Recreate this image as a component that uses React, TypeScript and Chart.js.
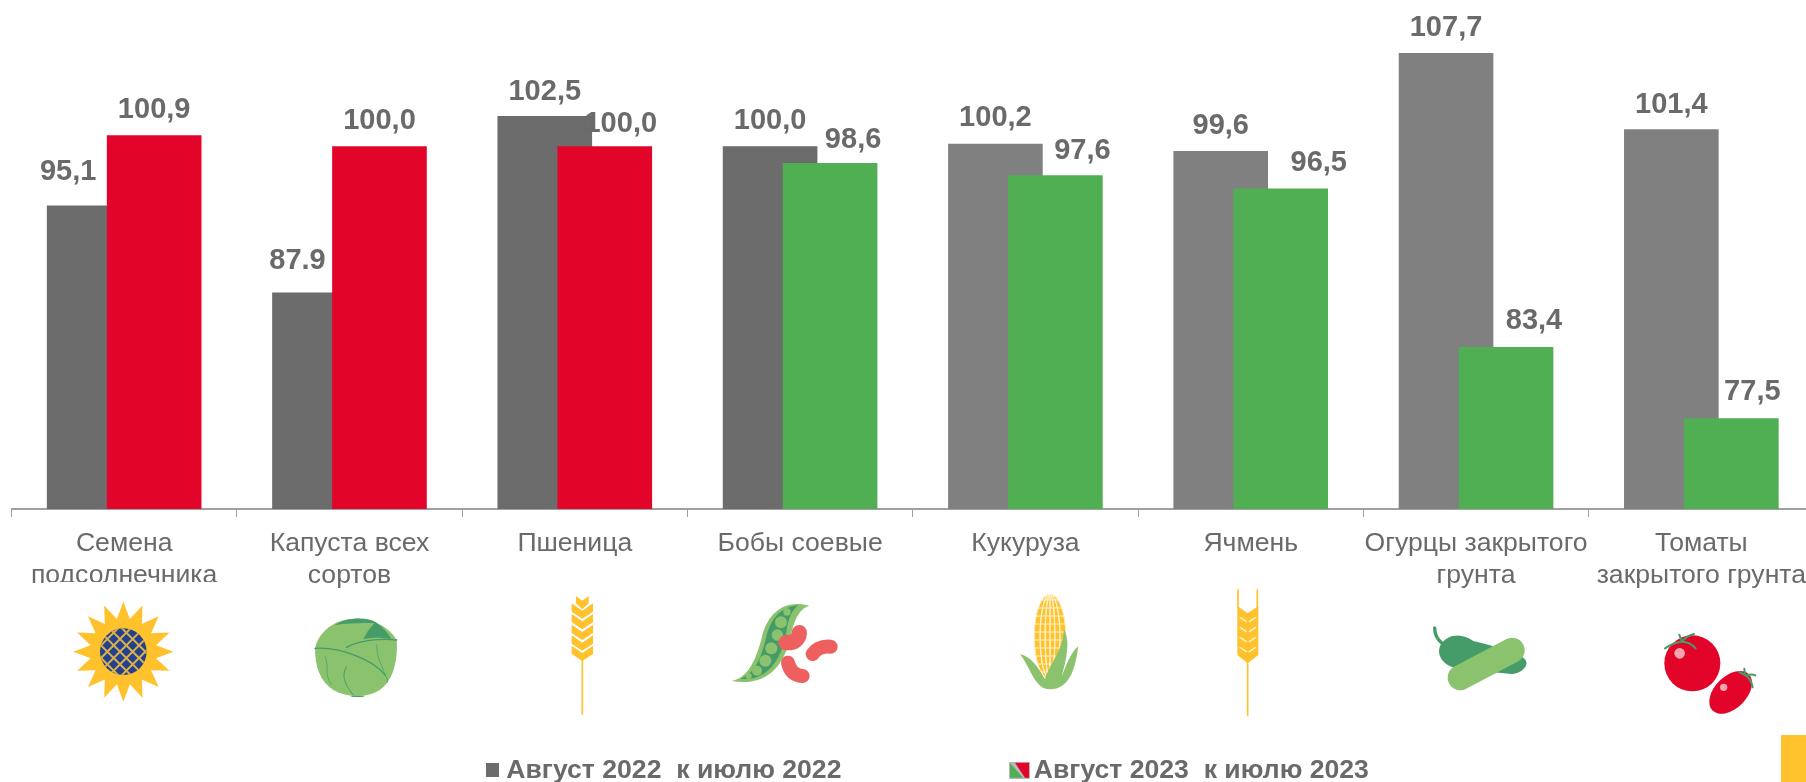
import React, { useEffect, useRef } from "react";
import { Chart, registerables } from "chart.js";

Chart.register(...registerables);

const categories: (string | string[])[] = [
  ["Семена", "подсолнечника"],
  ["Капуста всех", "сортов"],
  "Пшеница",
  "Бобы соевые",
  "Кукуруза",
  "Ячмень",
  ["Огурцы закрытого", "грунта"],
  ["Томаты", "закрытого грунта"],
];
const series2022 = [95.1, 87.9, 102.5, 100.0, 100.2, 99.6, 107.7, 101.4];
const series2023 = [100.9, 100.0, 100.0, 98.6, 97.6, 96.5, 83.4, 77.5];
const text2022 = ["95,1", "87.9", "102,5", "100,0", "100,2", "99,6", "107,7", "101,4"];
const text2023 = ["100,9", "100,0", "100,0", "98,6", "97,6", "96,5", "83,4", "77,5"];
const legend2022 = "Август 2022  к июлю 2022";
const legend2023 = "Август 2023  к июлю 2023";

const GREY_DARK = "#6c6c6c";
const GREY = "#808080";
const RED = "#E3042A";
const GREEN = "#4FAF52";
const TEXT = "#6a6a6a";
const GOLD = "#FFC12C";
const LEAF = "#8BC26E";
const DARK_LEAF = "#459C69";

const colors2022 = [GREY_DARK, GREY_DARK, GREY_DARK, GREY_DARK, GREY, GREY, GREY, GREY];
const colors2023 = [RED, RED, RED, GREEN, GREEN, GREEN, GREEN, GREEN];

// label placement relative to the top-centre of each bar
const nudge2022: [number, number][] = [[-26, -33], [-22, -31], [0, -24], [0, -25], [0, -26], [0, -25], [0, -25], [0, -24]];
const nudge2023: [number, number][] = [[0, -25], [0, -25], [16, -22], [23, -23], [27, -24], [38, -25], [28, -26], [21, -26]];

const BAR_SHIFT = 30;

const barOffset = {
  id: "barOffset",
  afterDatasetsUpdate(chart: any) {
    [-BAR_SHIFT, BAR_SHIFT].forEach((shift, i) => {
      chart.getDatasetMeta(i).data.forEach((el: any) => {
        el.x += shift;
      });
    });
  },
};

const placeLegend = {
  id: "placeLegend",
  afterLayout(chart: any) {
    const l = chart.legend;
    const pad = chart.options.plugins.legend.labels.padding;
    l.left = 491 - pad;
    l.right = 1806;
    l.top = 757 - pad;
    l.bottom = 782;
  },
};

const valueLabels = {
  id: "valueLabels",
  afterDatasetsDraw(chart: any) {
    const { ctx } = chart;
    ctx.save();
    ctx.font = 'bold 29px "Liberation Sans"';
    ctx.fillStyle = TEXT;
    ctx.textAlign = "center";
    ctx.textBaseline = "middle";
    [
      [text2022, nudge2022],
      [text2023, nudge2023],
    ].forEach(([texts, nudges]: any, d) => {
      chart.getDatasetMeta(d).data.forEach((el: any, i: number) => {
        ctx.fillText(texts[i], el.x + nudges[i][0], el.y + nudges[i][1]);
      });
    });
    ctx.restore();
  },
};

type C = CanvasRenderingContext2D;

function traced(ctx: C, ox: number, oy: number, draw: () => void) {
  ctx.save();
  ctx.translate(ox, oy);
  ctx.scale(1 / 3, 1 / 3);
  ctx.lineCap = "round";
  ctx.lineJoin = "round";
  draw();
  ctx.restore();
}

function poly(ctx: C, pts: number[][], fill: string) {
  ctx.beginPath();
  pts.forEach(([x, y], i) => (i ? ctx.lineTo(x, y) : ctx.moveTo(x, y)));
  ctx.closePath();
  ctx.fillStyle = fill;
  ctx.fill();
}

function pathFill(ctx: C, d: string, fill: string) {
  ctx.fillStyle = fill;
  ctx.fill(new Path2D(d));
}

function pathStroke(ctx: C, d: string, color: string, w: number) {
  ctx.strokeStyle = color;
  ctx.lineWidth = w;
  ctx.stroke(new Path2D(d));
}

function disc(ctx: C, x: number, y: number, r: number, fill: string) {
  ctx.beginPath();
  ctx.arc(x, y, r, 0, Math.PI * 2);
  ctx.fillStyle = fill;
  ctx.fill();
}

function sunflower(ctx: C) {
  traced(ctx, 30, 560, () => {
    const cx = 280, cy = 275, n = 16;
    const pts: number[][] = [];
    for (let i = 0; i < n * 2; i++) {
      const a = -Math.PI / 2 + (i * Math.PI) / n;
      const r = i % 2 ? 100 : 150;
      pts.push([cx + r * Math.cos(a), cy + r * Math.sin(a)]);
    }
    poly(ctx, pts, GOLD);
    ctx.save();
    ctx.beginPath();
    ctx.arc(cx, cy, 70, 0, Math.PI * 2);
    ctx.clip();
    ctx.fillStyle = "#24408E";
    ctx.fillRect(cx - 72, cy - 72, 144, 144);
    ctx.strokeStyle = "#D9B14A";
    ctx.lineWidth = 6;
    ctx.lineCap = "butt";
    for (let k = -200; k <= 200; k += 38) {
      ctx.beginPath();
      ctx.moveTo(cx + k - 100, cy - 100);
      ctx.lineTo(cx + k + 100, cy + 100);
      ctx.moveTo(cx + k + 100, cy - 100);
      ctx.lineTo(cx + k - 100, cy + 100);
      ctx.stroke();
    }
    ctx.restore();
  });
}

function cabbage(ctx: C) {
  traced(ctx, 30, 560, () => {
    pathFill(ctx, "M855,265 C865,215 915,176 975,176 C1035,176 1080,205 1100,240 C1104,300 1090,370 1040,395 C1000,415 950,412 910,390 C870,365 855,320 855,265 Z", LEAF);
    pathFill(ctx, "M915,195 C945,173 1010,168 1040,188 C1060,203 1075,220 1085,238 C1055,232 1025,232 1000,238 C1008,218 1020,205 1033,190 C1000,188 955,190 915,195 Z", DARK_LEAF);
    pathStroke(ctx, "M855,265 C930,260 1030,300 1065,345", DARK_LEAF, 4);
    pathStroke(ctx, "M950,262 C985,240 1050,235 1100,240", DARK_LEAF, 4);
    pathStroke(ctx, "M1065,345 C1060,320 1040,300 1040,255", DARK_LEAF, 2);
    pathStroke(ctx, "M1065,345 C1075,355 1070,370 1072,368", DARK_LEAF, 3);
    pathStroke(ctx, "M885,290 C900,320 880,340 905,375", DARK_LEAF, 2);
    pathStroke(ctx, "M950,320 C930,350 950,380 970,405", DARK_LEAF, 3);
    pathStroke(ctx, "M965,409 L1000,410", DARK_LEAF, 3);
  });
}

function wheat(ctx: C) {
  traced(ctx, 550, 580, () => {
    pathStroke(ctx, "M97,240 L97,402", GOLD, 5);
    poly(ctx, [[78, 48], [97, 62], [116, 48], [116, 70], [97, 88], [78, 70]], GOLD);
    [70, 102, 134, 166, 197].forEach((y) => {
      poly(ctx, [[65, y], [97, y + 22], [129, y], [129, y + 25], [97, y + 46], [65, y + 25]], GOLD);
    });
  });
}

function beans(ctx: C) {
  traced(ctx, 550, 580, () => {
    pathFill(ctx, "M545,303 C590,295 615,250 635,175 C650,105 700,55 778,78 C745,85 730,130 722,170 C700,265 645,320 545,303 Z", LEAF);
    pathFill(ctx, "M570,296 C610,285 630,245 648,175 C660,120 690,80 745,76 C720,95 712,130 708,165 C690,250 645,305 570,296 Z", DARK_LEAF);
    ([[711, 96, 11], [693, 127, 18], [682, 165, 17], [664, 205, 18], [646, 242, 18], [621, 272, 15], [596, 288, 9]] as number[][]).forEach(([x, y, r]) => disc(ctx, x, y, r, LEAF));
    const bean = "#EE6060";
    pathStroke(ctx, "M708,188 Q745,190 748,158", bean, 46);
    pathStroke(ctx, "M788,222 Q805,197 842,200", bean, 42);
    pathStroke(ctx, "M714,248 Q722,285 758,288", bean, 42);
  });
}

function corn(ctx: C) {
  traced(ctx, 1000, 580, () => {
    ctx.save();
    ctx.beginPath();
    ctx.ellipse(150, 170, 48, 128, 0, 0, Math.PI * 2);
    ctx.clip();
    ctx.fillStyle = GOLD;
    ctx.fillRect(100, 40, 100, 260);
    ctx.strokeStyle = "#FFF3D0";
    ctx.lineWidth = 3;
    ctx.lineCap = "butt";
    for (let y = 60; y < 300; y += 24) {
      ctx.beginPath();
      ctx.moveTo(100, y);
      ctx.lineTo(200, y);
      ctx.stroke();
    }
    [-1, -0.62, -0.3, 0, 0.3, 0.62, 1].forEach((f) => {
      ctx.beginPath();
      ctx.ellipse(150, 170, Math.abs(f) * 48 + 0.1, 128, 0, 0, Math.PI * 2);
      ctx.stroke();
    });
    ctx.restore();
    pathFill(ctx, "M60,222 C90,228 115,260 135,298 C150,250 190,210 192,148 C208,180 205,220 185,290 C200,250 215,215 235,198 C228,250 215,328 150,328 C105,328 95,270 60,222 Z", LEAF);
  });
}

function barley(ctx: C) {
  traced(ctx, 1000, 580, () => {
    pathStroke(ctx, "M714,30 L714,85", GOLD, 5);
    pathStroke(ctx, "M772,30 L772,85", GOLD, 5);
    pathStroke(ctx, "M743,245 L743,406", GOLD, 5);
    poly(ctx, [[712, 78], [743, 100], [775, 78], [775, 225], [743, 250], [712, 225]], GOLD);
    [112, 142, 172, 202].forEach((y) => {
      pathStroke(ctx, `M720,${y} L739,${y + 13}`, "#FFF3D0", 4);
      pathStroke(ctx, `M767,${y} L748,${y + 13}`, "#FFF3D0", 4);
    });
  });
}

function cucumber(ctx: C) {
  traced(ctx, 1420, 610, () => {
    pathStroke(ctx, "M44,54 C44,75 52,88 66,100", DARK_LEAF, 10);
    pathFill(ctx, "M60,108 C85,66 130,72 160,93 C190,100 250,115 305,140 C335,155 315,188 275,192 L130,178 C90,178 45,148 60,108 Z", DARK_LEAF);
    pathStroke(ctx, "M121,203 L276,121", LEAF, 76);
  });
}

function tomatoes(ctx: C) {
  traced(ctx, 1420, 610, () => {
    disc(ctx, 817, 160, 84, RED);
    disc(ctx, 779, 130, 16, "#F5A5AD");
    ctx.save();
    ctx.translate(932, 247);
    ctx.rotate(-Math.PI / 4);
    ctx.beginPath();
    ctx.ellipse(0, 0, 77, 48, 0, 0, Math.PI * 2);
    ctx.fillStyle = RED;
    ctx.fill();
    ctx.restore();
    disc(ctx, 911, 232, 11, "#F5A5AD");
    ["M785,95 Q760,97 735,115", "M785,95 L778,74", "M785,95 Q800,78 822,72", "M785,95 Q810,95 827,115"].forEach((d) => pathStroke(ctx, d, DARK_LEAF, 6));
    ["M975,195 L958,186", "M975,195 L973,176", "M978,197 Q995,190 1006,196", "M978,197 Q995,210 998,232"].forEach((d) => pathStroke(ctx, d, DARK_LEAF, 6));
  });
}

const icons = {
  id: "icons",
  afterDraw(chart: any) {
    const { ctx } = chart;
    ctx.save();
    ctx.fillStyle = "#ffffff";
    ctx.fillRect(50, 582, 175, 141);
    [sunflower, cabbage, wheat, beans, corn, barley, cucumber, tomatoes].forEach((f) => f(ctx));
    ctx.fillStyle = GOLD;
    ctx.fillRect(1781, 735, 25, 47);
    ctx.restore();
  },
};

function swatchPlain() {
  const c = document.createElement("canvas");
  c.width = 13;
  c.height = 14;
  const x = c.getContext("2d")!;
  x.fillStyle = GREY_DARK;
  x.fillRect(0, 0, 13, 14);
  return c;
}

function swatchDiagonal() {
  const c = document.createElement("canvas");
  c.width = 21;
  c.height = 17;
  const x = c.getContext("2d")!;
  x.fillStyle = "#b9b9b9";
  x.fillRect(0, 0, 21, 17);
  x.fillStyle = GREEN;
  x.beginPath();
  x.moveTo(1, 1);
  x.lineTo(14, 16);
  x.lineTo(1, 16);
  x.closePath();
  x.fill();
  x.fillStyle = RED;
  x.beginPath();
  x.moveTo(6, 1);
  x.lineTo(20, 1);
  x.lineTo(20, 16);
  x.lineTo(16, 16);
  x.closePath();
  x.fill();
  return c;
}

export default function App() {
  const ref = useRef<HTMLCanvasElement>(null);

  useEffect(() => {
    const chart = new Chart(ref.current!, {
      type: "bar",
      data: {
        labels: categories as any,
        datasets: [
          { label: legend2022, data: series2022, backgroundColor: colors2022, order: 2, grouped: false, barPercentage: 0.42, categoryPercentage: 1, borderWidth: 0 } as any,
          { label: legend2023, data: series2023, backgroundColor: colors2023, order: 1, grouped: false, barPercentage: 0.42, categoryPercentage: 1, borderWidth: 0 } as any,
        ],
      },
      options: {
        responsive: false,
        animation: false,
        layout: { padding: { left: 11.5, top: 1, right: 0, bottom: 0 } },
        scales: {
          y: { display: false, min: 70, max: 112 },
          x: {
            offset: true,
            border: { color: "#a0a0a0", width: 2 },
            grid: { drawOnChartArea: false, drawTicks: true, tickLength: 8, color: "#a0a0a0", offset: true } as any,
            ticks: {
              autoSkip: false,
              maxRotation: 0,
              minRotation: 0,
              color: TEXT,
              padding: 11,
              font: { family: '"Liberation Sans"', size: 26.6, lineHeight: 32 / 26.6 },
            },
            afterFit(scale: any) {
              scale.height = 233;
              scale.paddingLeft = 0;
              scale.paddingRight = 0;
            },
          },
        },
        plugins: {
          tooltip: { enabled: false },
          legend: {
            position: "bottom",
            align: "start",
            maxHeight: 40,
            labels: {
              usePointStyle: true,
              pointStyleWidth: 2,
              padding: 177,
              color: TEXT,
              font: { family: '"Liberation Sans"', size: 26.6, weight: "bold" },
              generateLabels: () => [
                { text: legend2022, pointStyle: swatchPlain(), fillStyle: GREY_DARK, lineWidth: 0, datasetIndex: 0, fontColor: TEXT },
                { text: legend2023, pointStyle: swatchDiagonal(), fillStyle: GREEN, lineWidth: 0, datasetIndex: 1, fontColor: TEXT },
              ] as any,
            },
          } as any,
        },
      },
      plugins: [barOffset, placeLegend, valueLabels, icons],
    });
    return () => chart.destroy();
  }, []);

  return (
    <div style={{ position: "absolute", left: 0, top: 0, width: 1806, height: 782, overflow: "hidden", background: "#fff" }}>
      <canvas ref={ref} width={1814} height={782} style={{ display: "block" }} />
    </div>
  );
}
